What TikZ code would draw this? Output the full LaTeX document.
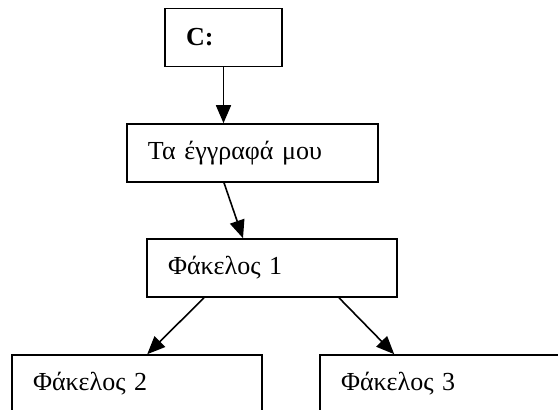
\documentclass[tikz,border=0pt]{standalone}
\usepackage{fontspec}
\setmainfont{Liberation Serif}
\usetikzlibrary{arrows.meta}
\begin{document}
\begin{tikzpicture}[x=1pt, y=-1pt,
	box/.style={draw, line width=0.8pt, inner xsep=10.5pt, inner ysep=0pt,
		minimum height=29pt, align=left, font=\fontsize{13}{15}\selectfont},
	link/.style={line width=0.8pt, -{Triangle[length=9pt, width=7.5pt]}},
	]
	\useasboundingbox (0,0) rectangle (279,205);
	\clip (0,0) rectangle (279,205);

	\node[box, text width=37.5pt] (c) at (111.75,18.75) {\textbf{C:}};
	\node[box, text width=104.5pt] (docs) at (126.25,76.5) {Τα έγγραφά μου};
	\node[box, text width=104pt] (f1) at (136,134) {Φάκελος 1};
	\node[box, text width=104pt] (f2) at (68.5,192) {Φάκελος 2};
	\node[box, text width=104pt] (f3) at (222.5,192) {Φάκελος 3};

	\draw[link] (c.south) -- (c.south |- docs.north);
	\draw[link] ([xshift=-14.25pt]docs.south) -- ([xshift=-14.5pt]f1.north);
	\draw[link] ([xshift=-34pt]f1.south) -- ([xshift=68pt]f2.north west);
	\draw[link] ([xshift=33.5pt]f1.south) -- ([xshift=37.5pt]f3.north west);
\end{tikzpicture}
\end{document}
